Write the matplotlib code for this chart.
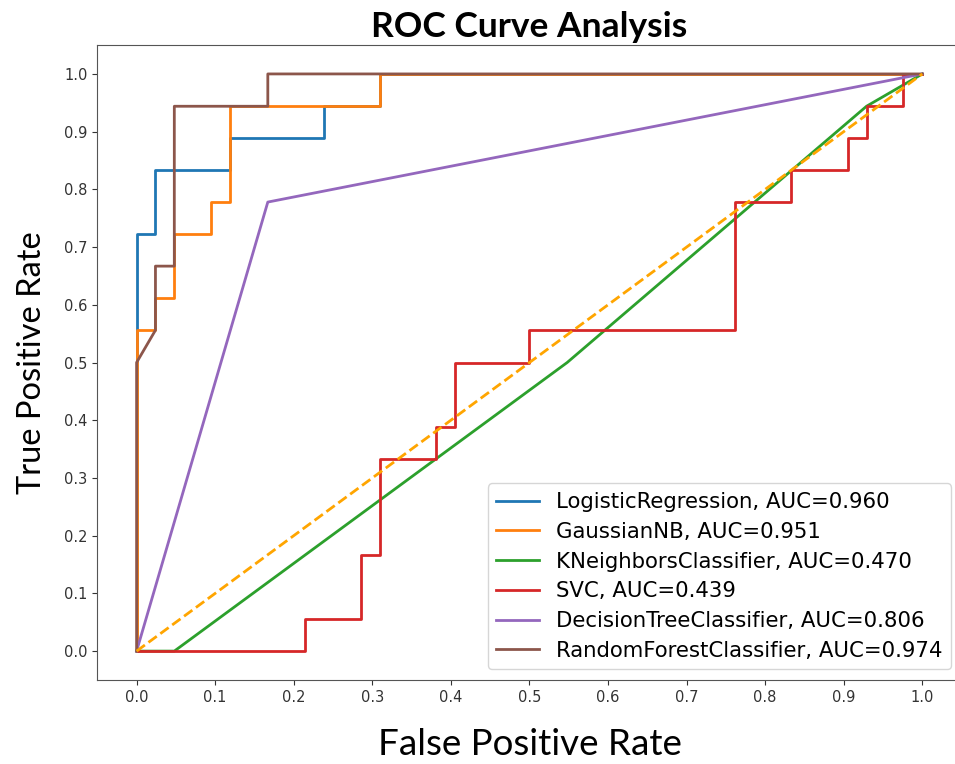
import matplotlib
matplotlib.use('Agg')
import matplotlib.pyplot as plt

# Curvas ROC (fpr, tpr)
lr_fpr = [0, 0, 0.024, 0.024, 0.119, 0.119, 0.238, 0.238, 0.310, 0.310, 1.0]
lr_tpr = [0, 0.722, 0.722, 0.833, 0.833, 0.889, 0.889, 0.944, 0.944, 1.0, 1.0]

nb_fpr = [0, 0, 0.024, 0.024, 0.048, 0.048, 0.095, 0.095, 0.119, 0.119, 0.310, 0.310, 1.0]
nb_tpr = [0, 0.556, 0.556, 0.611, 0.611, 0.722, 0.722, 0.778, 0.778, 0.944, 0.944, 1.0, 1.0]

knn_fpr = [0, 0.048, 0.548, 0.929, 1.0]
knn_tpr = [0, 0, 0.5, 0.944, 1.0]

svc_fpr = [0, 0.214, 0.214, 0.286, 0.286, 0.310, 0.310, 0.381, 0.381, 0.405, 0.405, 0.5,
           0.5, 0.762, 0.762, 0.833, 0.833, 0.905, 0.905, 0.929, 0.929, 0.976, 0.976, 1.0]
svc_tpr = [0, 0, 0.056, 0.056, 0.167, 0.167, 0.333, 0.333, 0.389, 0.389, 0.5, 0.5,
           0.556, 0.556, 0.778, 0.778, 0.833, 0.833, 0.889, 0.889, 0.944, 0.944, 1.0, 1.0]

dt_fpr = [0, 0.167, 1.0]
dt_tpr = [0, 0.778, 1.0]

rf_fpr = [0, 0, 0.024, 0.024, 0.048, 0.048, 0.167, 0.167, 1.0]
rf_tpr = [0, 0.5, 0.556, 0.667, 0.667, 0.944, 0.944, 1.0, 1.0]

modelos = ['LogisticRegression', 'GaussianNB', 'KNeighborsClassifier', 'SVC',
           'DecisionTreeClassifier', 'RandomForestClassifier']
auc = [0.960, 0.951, 0.470, 0.439, 0.806, 0.974]
curvas = [(lr_fpr, lr_tpr), (nb_fpr, nb_tpr), (knn_fpr, knn_tpr),
          (svc_fpr, svc_tpr), (dt_fpr, dt_tpr), (rf_fpr, rf_tpr)]

ticks = [0.0, 0.1, 0.2, 0.3, 0.4, 0.5, 0.6, 0.7, 0.8, 0.9, 1.0]

fig = plt.figure(figsize=(9.55, 7.64), dpi=100)
ax = fig.add_axes([0.1019, 0.110, 0.905, 0.831])

for (fpr, tpr), nombre, a in zip(curvas, modelos, auc):
    ax.plot(fpr, tpr, lw=2, label='{}, AUC={:.3f}'.format(nombre, a))

# Linea de referencia
ax.plot([0, 1], [0, 1], color='orange', linestyle='--', lw=2)

ax.set_xticks(ticks)
ax.set_yticks(ticks)
ax.tick_params(labelsize=10.5, colors='#333333')
for s in ax.spines.values():
    s.set_color('#555555')
ax.spines['right'].set_visible(False)

ax.set_title('ROC Curve Analysis', fontsize=25.5, fontweight='bold', family='Lato', pad=6)
ax.set_xlabel('False Positive Rate', fontsize=26.5, family='Lato', labelpad=17)
ax.set_ylabel('True Positive Rate', fontsize=23.5, family='Lato', labelpad=12)

ax.legend(loc='lower right', fontsize=15.3, labelspacing=0.46, handlelength=2.0,
          borderaxespad=0.5)

fig.savefig('out.png', dpi=100)
